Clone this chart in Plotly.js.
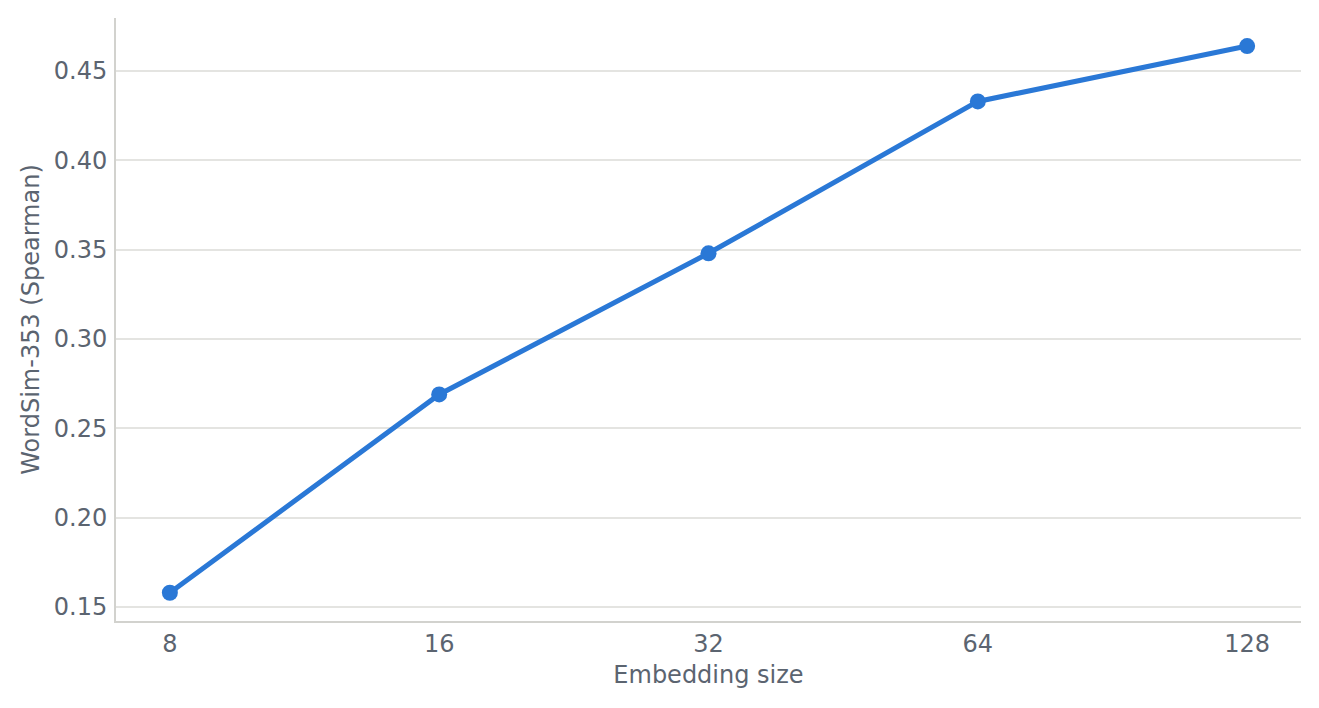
<!DOCTYPE html>
<html>
<head>
<meta charset="utf-8">
<script src="https://cdn.plot.ly/plotly-3.0.1.min.js"></script>
<style>
  html, body { margin: 0; padding: 0; background: #fff; }
  #chart { width: 1319px; height: 708px; }
</style>
</head>
<body>
<div id="chart"></div>
<script>
// Embedding size (evenly spaced, log2 steps) vs WordSim-353 Spearman score.
const embeddingSizes = ['8', '16', '32', '64', '128'];
const spearmanScores = [0.158, 0.269, 0.348, 0.433, 0.464];
const yTickValues = [0.15, 0.20, 0.25, 0.30, 0.35, 0.40, 0.45];

const textColor = '#5b6470';
const lineColor = '#2a78d6';

const trace = {
    type: 'scatter',
    mode: 'lines+markers',
    x: embeddingSizes,
    y: spearmanScores,
    line: { color: lineColor, width: 5 },
    marker: { color: lineColor, size: 16 },
    hoverinfo: 'x+y',
};

const layout = {
    width: 1319,
    height: 708,
    paper_bgcolor: '#ffffff',
    plot_bgcolor: '#ffffff',
    font: { family: 'DejaVu Sans, sans-serif', color: textColor, size: 24 },
    margin: { l: 116, r: 18, t: 18, b: 87 },
    showlegend: false,
    xaxis: {
        type: 'category',
        range: [-0.2, 4.2],
        title: { text: 'Embedding size', font: { size: 24, color: textColor }, standoff: 9 },
        showgrid: false,
        zeroline: false,
        showline: true,
        linecolor: '#d2d2ce',
        linewidth: 2,
        ticks: '',
        tickfont: { size: 24, color: textColor },
    },
    yaxis: {
        range: [0.1422, 0.4797],
        tickvals: yTickValues,
        ticktext: yTickValues.map(v => v.toFixed(2)),
        title: { text: 'WordSim-353 (Spearman)', font: { size: 24, color: textColor }, standoff: 7 },
        showgrid: true,
        gridcolor: '#e4e4e1',
        gridwidth: 2,
        zeroline: false,
        showline: true,
        linecolor: '#d2d2ce',
        linewidth: 2,
        ticks: '',
        ticklabelstandoff: 2,
        tickfont: { size: 24, color: textColor },
    },
};

Plotly.newPlot('chart', [trace], layout, { displayModeBar: false, staticPlot: true });
</script>
</body>
</html>
